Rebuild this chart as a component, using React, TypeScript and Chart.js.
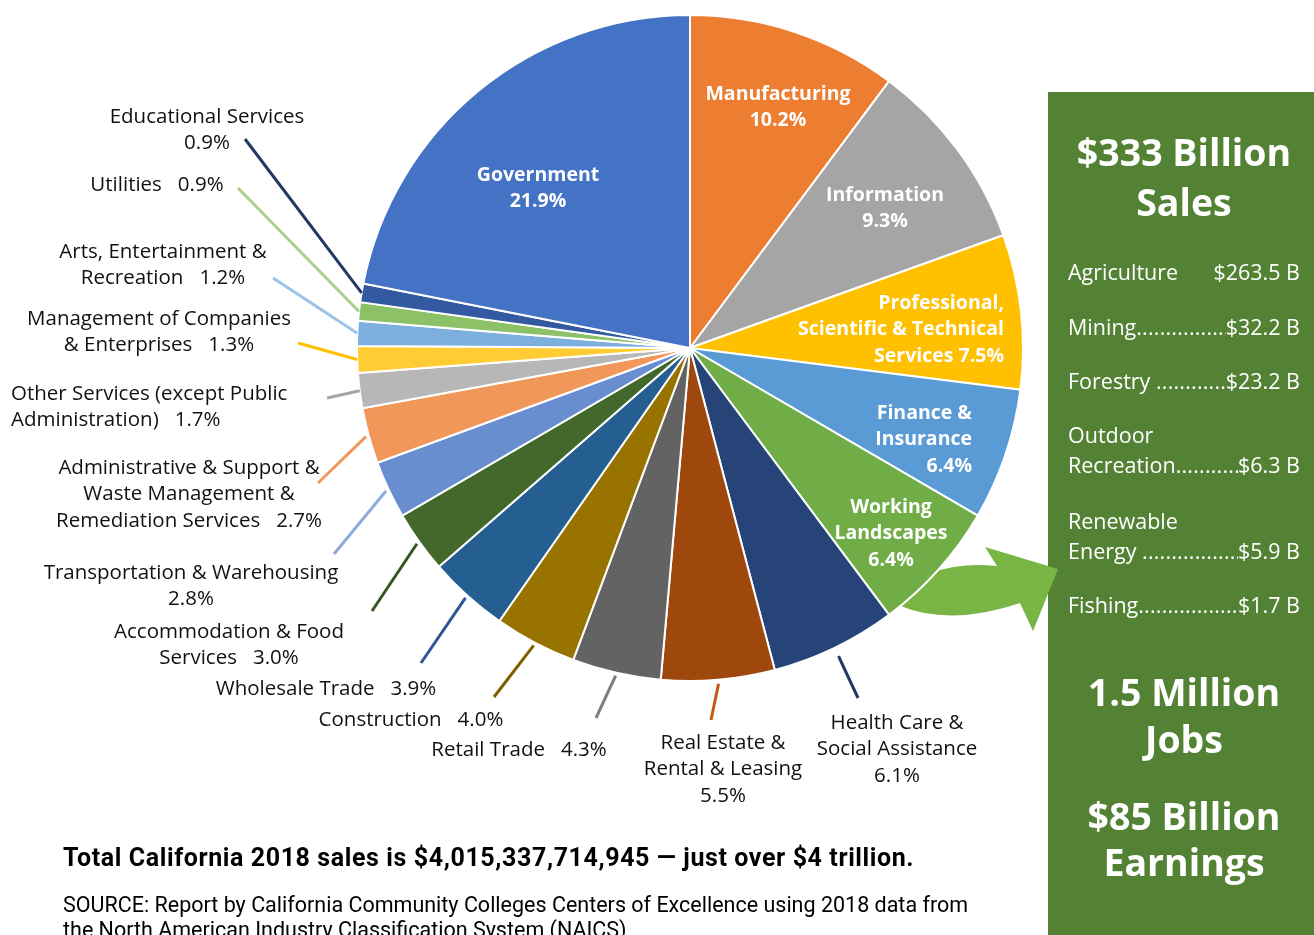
import React, { useEffect, useRef } from "react";
import { Chart, registerables } from "chart.js";

Chart.register(...registerables);

// ---------- data ----------
const categories = [
  "Manufacturing",
  "Information",
  "Professional, Scientific & Technical Services",
  "Finance & Insurance",
  "Working Landscapes",
  "Health Care & Social Assistance",
  "Real Estate & Rental & Leasing",
  "Retail Trade",
  "Construction",
  "Wholesale Trade",
  "Accommodation & Food Services",
  "Transportation & Warehousing",
  "Administrative & Support & Waste Management & Remediation Services",
  "Other Services (except Public Administration)",
  "Management of Companies & Enterprises",
  "Arts, Entertainment & Recreation",
  "Utilities",
  "Educational Services",
  "Government",
];
const shares = [10.2, 9.3, 7.5, 6.4, 6.4, 6.1, 5.5, 4.3, 4.0, 3.9, 3.0, 2.8, 2.7, 1.7, 1.3, 1.2, 0.9, 0.9, 21.9];
const sliceColors = [
  "#ED7D31", "#A5A5A5", "#FFC000", "#5B9BD5", "#70AD47", "#264478", "#9E480E", "#636363",
  "#997300", "#255E91", "#43682B", "#698ED0", "#F1975A", "#B7B7B7", "#FFCD33", "#7CAFDD",
  "#8CC168", "#335AA1", "#4472C4",
];

const sectorNames = ["Agriculture", "Mining", "Forestry", "Outdoor Recreation", "Renewable Energy", "Fishing"];
const sectorSales = [263.5, 32.2, 23.2, 6.3, 5.9, 1.7];

const totalSales = "$4,015,337,714,945";
const jobsMillions = 1.5;
const earningsBillions = 85;
const salesBillions = 333;

const pct = (i: number) => shares[i].toFixed(1) + "%";

// ---------- layout (positions only) ----------
type Lbl = { idx: number; lines: string[]; x: number; y: number; align: "center" | "left" | "right" };

const insideLabels: Lbl[] = [
  { idx: 18, lines: ["Government", pct(18)], x: 538, y: 174, align: "center" },
  { idx: 0, lines: ["Manufacturing", pct(0)], x: 778, y: 93, align: "center" },
  { idx: 1, lines: ["Information", pct(1)], x: 885, y: 194, align: "center" },
  { idx: 2, lines: ["Professional,", "Scientific & Technical", "Services " + pct(2)], x: 1004, y: 302, align: "right" },
  { idx: 3, lines: ["Finance &", "Insurance", pct(3)], x: 972, y: 412, align: "right" },
  { idx: 4, lines: ["Working", "Landscapes", pct(4)], x: 891, y: 506, align: "center" },
];

const outsideLabels: Lbl[] = [
  { idx: 17, lines: ["Educational Services", pct(17)], x: 207, y: 115, align: "center" },
  { idx: 16, lines: ["Utilities   " + pct(16)], x: 157, y: 183, align: "center" },
  { idx: 15, lines: ["Arts, Entertainment &", "Recreation   " + pct(15)], x: 163, y: 250, align: "center" },
  { idx: 14, lines: ["Management of Companies", "& Enterprises   " + pct(14)], x: 159, y: 317, align: "center" },
  { idx: 13, lines: ["Other Services (except Public", "Administration)   " + pct(13)], x: 11, y: 392, align: "left" },
  { idx: 12, lines: ["Administrative & Support &", "Waste Management &", "Remediation Services   " + pct(12)], x: 189, y: 466, align: "center" },
  { idx: 11, lines: ["Transportation & Warehousing", pct(11)], x: 191, y: 571, align: "center" },
  { idx: 10, lines: ["Accommodation & Food", "Services   " + pct(10)], x: 229, y: 630, align: "center" },
  { idx: 9, lines: ["Wholesale Trade   " + pct(9)], x: 326, y: 687, align: "center" },
  { idx: 8, lines: ["Construction   " + pct(8)], x: 411, y: 718, align: "center" },
  { idx: 7, lines: ["Retail Trade   " + pct(7)], x: 519, y: 748, align: "center" },
  { idx: 6, lines: ["Real Estate &", "Rental & Leasing", pct(6)], x: 723, y: 741, align: "center" },
  { idx: 5, lines: ["Health Care &", "Social Assistance", pct(5)], x: 897, y: 721, align: "center" },
];

const leaders = [
  { idx: 17, x: 245, y: 139, gap: 0, color: "#203864" },
  { idx: 16, x: 238, y: 188, gap: 0, color: "#A9D18E" },
  { idx: 15, x: 273, y: 278, gap: 0, color: "#9DC3E6" },
  { idx: 14, x: 298, y: 343, gap: 0, color: "#FFC000" },
  { idx: 13, x: 327, y: 398, gap: 0, color: "#A5A5A5" },
  { idx: 12, x: 318, y: 483, gap: 3, color: "#F1975A" },
  { idx: 11, x: 334, y: 554, gap: 3, color: "#8FAADC" },
  { idx: 10, x: 372, y: 611, gap: 3, color: "#375623" },
  { idx: 9, x: 421, y: 663, gap: 3, color: "#2F5597" },
  { idx: 8, x: 494, y: 697, gap: 3, color: "#7F6000" },
  { idx: 7, x: 596, y: 718, gap: 3, color: "#7F7F7F" },
  { idx: 6, x: 711, y: 720, gap: 4, color: "#C55A11" },
  { idx: 5, x: 858, y: 698, gap: 9, color: "#1F3864" },
];

const FONT = '"Open Sans", "DejaVu Sans", sans-serif';

function TextBlock({ l, bold, color, size, lh }: { l: Lbl; bold?: boolean; color: string; size: number; lh: number }) {
  const style: React.CSSProperties = {
    position: "absolute",
    top: l.y - lh / 2,
    fontFamily: FONT,
    fontSize: size,
    fontWeight: bold ? 700 : 400,
    lineHeight: lh + "px",
    color,
    whiteSpace: "pre",
    textAlign: l.align,
  };
  if (l.align === "center") {
    style.left = l.x;
    style.transform = "translateX(-50%)";
  } else if (l.align === "left") {
    style.left = l.x;
  } else {
    style.right = 1314 - l.x;
  }
  return (
    <div style={style}>
      {l.lines.map((s, i) => (
        <div key={i}>{s}</div>
      ))}
    </div>
  );
}

const arrowPlugin = {
  id: "arrow",
  beforeDatasetsDraw(chart: any) {
    const ctx = chart.ctx;
    ctx.save();
    ctx.fillStyle = "#78B545";
    ctx.beginPath();
    ctx.moveTo(930, 573);
    ctx.quadraticCurveTo(962, 562, 997, 566);
    ctx.lineTo(985, 547);
    ctx.lineTo(1058, 569);
    ctx.lineTo(1033, 631);
    ctx.lineTo(1020, 603);
    ctx.quadraticCurveTo(950, 627, 898, 605);
    ctx.closePath();
    ctx.fill();
    ctx.restore();
  },
};

const leaderPlugin = {
  id: "leaders",
  afterDatasetsDraw(chart: any) {
    const ctx = chart.ctx;
    const meta = chart.getDatasetMeta(0);
    ctx.save();
    ctx.lineWidth = 3;
    ctx.lineCap = "butt";
    leaders.forEach((ld) => {
      const arc = meta.data[ld.idx];
      const p = arc.getProps(["x", "y", "startAngle", "endAngle", "outerRadius"], true);
      const mid = (p.startAngle + p.endAngle) / 2;
      const r = p.outerRadius + ld.gap;
      ctx.strokeStyle = ld.color;
      ctx.beginPath();
      ctx.moveTo(ld.x, ld.y);
      ctx.lineTo(p.x + Math.cos(mid) * r, p.y + Math.sin(mid) * r);
      ctx.stroke();
    });
    ctx.restore();
  },
};

function PieChart() {
  const ref = useRef<HTMLCanvasElement | null>(null);
  useEffect(() => {
    if (!ref.current) return;
    const chart = new Chart(ref.current, {
      type: "pie",
      data: {
        labels: categories,
        datasets: [
          {
            data: shares,
            backgroundColor: sliceColors,
            borderColor: "#FFFFFF",
            borderWidth: 2,
          },
        ],
      },
      options: {
        responsive: false,
        animation: false,
        layout: { padding: { left: 356, right: 290, top: 14, bottom: 253 } },
        plugins: { legend: { display: false }, tooltip: { enabled: false } },
      },
      plugins: [arrowPlugin, leaderPlugin],
    });
    return () => chart.destroy();
  }, []);
  return <canvas ref={ref} width={1314} height={935} style={{ position: "absolute", left: 0, top: 0 }} />;
}

function SectorRow({ i, y }: { i: number; y: number }) {
  const name = sectorNames[i];
  const val = "$" + sectorSales[i].toFixed(1) + " B";
  const parts = name.split(" ");
  const twoLine = parts.length > 1 && i >= 3;
  const rowStyle: React.CSSProperties = {
    display: "flex",
    width: 232,
    whiteSpace: "pre",
    overflow: "hidden",
  };
  const dots = i === 0 ? "  " : ".".repeat(40);
  const last = twoLine ? parts.slice(1).join(" ") + (i === 4 ? " " : "") : name + (i === 2 ? " " : "");
  return (
    <div style={{ position: "absolute", left: 1068, top: y - 15, fontFamily: FONT, fontSize: 21.5, lineHeight: "30px", color: "#fff" }}>
      {twoLine && <div>{parts[0]}</div>}
      <div style={rowStyle}>
        <span>{last}</span>
        <span style={{ flex: 1, overflow: "hidden", whiteSpace: "nowrap", letterSpacing: i === 0 ? 0 : 0.2 }}>{dots}</span>
        <span>{val}</span>
      </div>
    </div>
  );
}

export default function App() {
  const rowYs = [272, 327, 381, 435, 521, 605];
  const bigStyle: React.CSSProperties = {
    position: "absolute",
    left: 1051,
    width: 266,
    textAlign: "center",
    fontFamily: FONT,
    fontWeight: 700,
    fontSize: 37.5,
    lineHeight: "48px",
    color: "#fff",
  };
  return (
    <div style={{ position: "absolute", left: 0, top: 0, width: 1314, height: 935, overflow: "hidden", background: "#fff" }}>
      <div style={{ position: "absolute", left: 1048, top: 92, width: 266, height: 843, background: "#548235" }} />
      <PieChart />
      {insideLabels.map((l) => (
        <TextBlock key={"in" + l.idx} l={l} bold color="#fff" size={19.5} lh={26.5} />
      ))}
      {outsideLabels.map((l) => (
        <TextBlock key={"out" + l.idx} l={l} color="#111" size={20.5} lh={26.5} />
      ))}
      <div style={{ ...bigStyle, top: 152 - 24 }}>
        <div>${salesBillions} Billion</div>
        <div style={{ marginTop: 2 }}>Sales</div>
      </div>
      {sectorNames.map((_, i) => (
        <SectorRow key={i} i={i} y={rowYs[i]} />
      ))}
      <div style={{ ...bigStyle, top: 692 - 24, lineHeight: "47px" }}>
        <div>{jobsMillions} Million</div>
        <div>Jobs</div>
      </div>
      <div style={{ ...bigStyle, top: 817 - 24, lineHeight: "46px" }}>
        <div>${earningsBillions} Billion</div>
        <div>Earnings</div>
      </div>
      <div
        style={{
          position: "absolute",
          left: 63,
          top: 858 - 15,
          fontFamily: 'Roboto, "Open Sans", sans-serif',
          fontWeight: 700,
          fontSize: 25,
          letterSpacing: 0.6,
          lineHeight: "30px",
          color: "#000",
          whiteSpace: "pre",
        }}
      >
        Total California 2018 sales is {totalSales} — just over $4 trillion.
      </div>
      <div
        style={{
          position: "absolute",
          left: 63,
          top: 905 - 13,
          fontFamily: 'Roboto, "Open Sans", sans-serif',
          fontSize: 21.5,
          lineHeight: "25px",
          color: "#000",
          whiteSpace: "pre",
        }}
      >
        <div>SOURCE: Report by California Community Colleges Centers of Excellence using 2018 data from</div>
        <div>the North American Industry Classification System (NAICS)</div>
      </div>
    </div>
  );
}
